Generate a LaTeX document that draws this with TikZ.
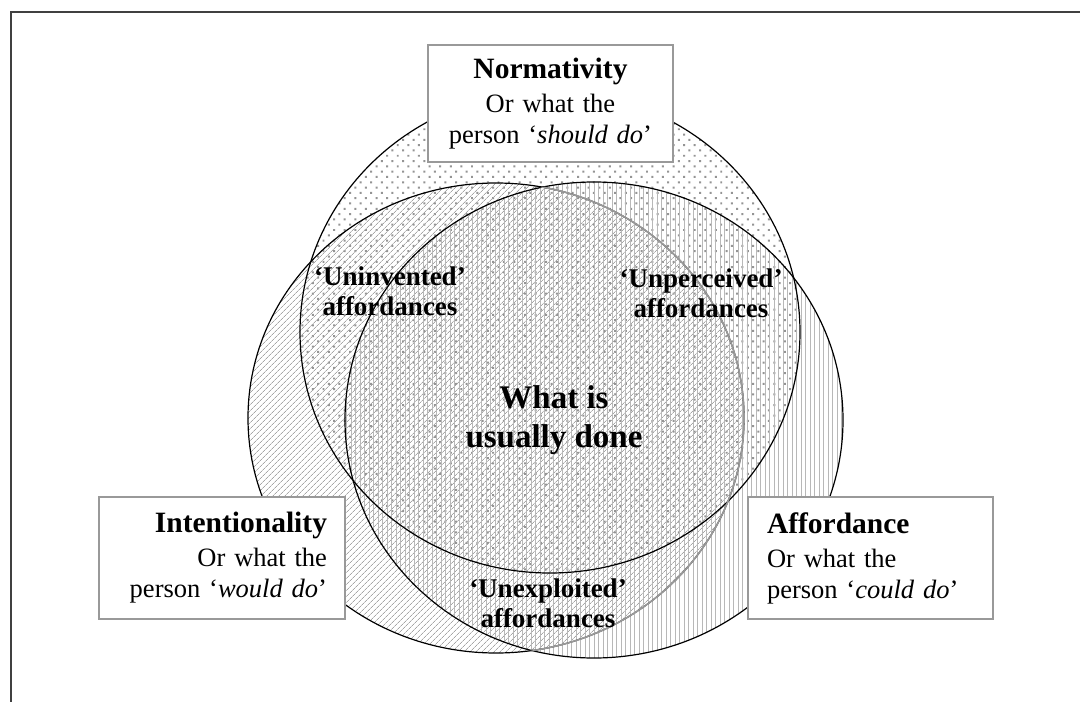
\documentclass[tikz,border=0pt]{standalone}
\usepackage{fontspec}
\setmainfont{Liberation Serif}
\usetikzlibrary{patterns.meta}

% the three sets, as ellipse paths
\newcommand\normset{(550,332) ellipse [x radius=250pt, y radius=241pt]}
\newcommand\intset{(496,418) ellipse [x radius=248pt, y radius=235pt]}
\newcommand\affset{(594,420) ellipse [x radius=249pt, y radius=238pt]}

\begin{document}
\begin{tikzpicture}[x=1pt,y=-1pt,
  setbox/.style={draw=black!40, line width=1.3pt, fill=white, inner ysep=0pt,
    minimum height=122pt, font=\fontsize{26.5}{31}\selectfont},
  region/.style={font=\fontsize{27}{30}\selectfont\bfseries, align=center, inner sep=0pt}]
\useasboundingbox (0,0) rectangle (1080,702);

\draw[black!75, line width=1.5pt] (11,702) -- (11,12) -- (1080,12);

\fill[white] \normset;
\fill[pattern={Dots[radius=1.4pt, distance=7.5pt, angle=45]}, pattern color=black!42] \normset;
\fill[pattern={Lines[angle=45, distance=4pt, line width=0.8pt]}, pattern color=black!35] \intset;
\fill[pattern={Lines[angle=90, distance=4.5pt, line width=0.8pt]}, pattern color=black!28] \affset;

\draw[line width=1.2pt] \normset;
\draw[line width=1.2pt] \intset;
\draw[line width=1.2pt] \affset;
\begin{scope}
  \clip \affset;
  \draw[black!40, line width=1.6pt] \intset;
\end{scope}

\node[region] (uninv) at (390,291) {‘Uninvented’\\affordances};
\node[region] (unperc) at (701,293) {‘Unperceived’\\affordances};
\node[region] (unexpl) at (548,603) {‘Unexploited’\\affordances};
\node[region, font=\fontsize{33}{39}\selectfont\bfseries] (usual) at (554,420) {What is\\usually done};

\node[setbox, minimum width=245pt, minimum height=117pt, text width=225pt, inner xsep=10pt, align=center] (norm) at (550.5,103.5)
  {{\fontsize{29.5}{34}\selectfont\bfseries Normativity}\\[3pt]Or what the\\person ‘\textit{should do}’};
\node[setbox, text width=210pt, inner xsep=18pt, align=right] (intent) at (222,558)
  {{\fontsize{29.5}{34}\selectfont\bfseries Intentionality}\\[3pt]Or what the\\person ‘\textit{would do}’};
\node[setbox, text width=207pt, inner xsep=19pt, align=left] (afford) at (870.5,558)
  {{\fontsize{29.5}{34}\selectfont\bfseries Affordance}\\[3pt]Or what the\\person ‘\textit{could do}’};

\end{tikzpicture}
\end{document}
